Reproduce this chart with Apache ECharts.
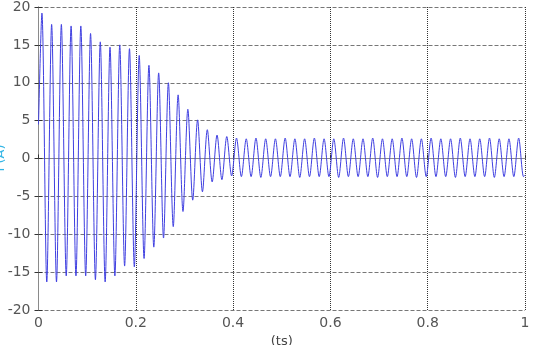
<!DOCTYPE html>
<html>
<head>
<meta charset="utf-8">
<script src="https://cdn.jsdelivr.net/npm/echarts@6/dist/echarts.min.js"></script>
<style>
  html, body { margin: 0; padding: 0; background: #fff; }
  #chart { width: 534px; height: 345px; }
</style>
</head>
<body>
<div id="chart"></div>
<script>
// values (positive peaks / negative troughs of the waveform)
var startPoint = [0, 4.5];
var endPoint = [1, -2.2];

var peakTimes = [0.007, 0.027, 0.047, 0.067, 0.087, 0.107, 0.127, 0.147, 0.167, 0.187,
                 0.207, 0.227, 0.247, 0.267, 0.287, 0.307, 0.327, 0.347, 0.367, 0.387,
                 0.407, 0.427, 0.447, 0.467, 0.487, 0.507, 0.527, 0.547, 0.567, 0.587,
                 0.607, 0.627, 0.647, 0.667, 0.687, 0.707, 0.727, 0.747, 0.767, 0.787,
                 0.807, 0.827, 0.847, 0.867, 0.887, 0.907, 0.927, 0.947, 0.967, 0.987];
var peakValues = [19.2, 17.7, 17.7, 17.5, 17.5, 16.5, 15.4, 14.7, 15.0, 14.5,
                  13.6, 12.3, 11.3, 10.0, 8.4, 6.5, 5.1, 3.8, 3.1, 2.9,
                  2.7, 2.6, 2.7, 2.6, 2.6, 2.7, 2.6, 2.6, 2.7, 2.6,
                  2.6, 2.7, 2.6, 2.6, 2.7, 2.6, 2.6, 2.7, 2.6, 2.6,
                  2.7, 2.6, 2.6, 2.7, 2.6, 2.6, 2.7, 2.6, 2.6, 2.7];

var troughTimes = [0.017, 0.037, 0.057, 0.077, 0.097, 0.117, 0.137, 0.157, 0.177, 0.197,
                   0.217, 0.237, 0.257, 0.277, 0.297, 0.317, 0.337, 0.357, 0.377, 0.397,
                   0.417, 0.437, 0.457, 0.477, 0.497, 0.517, 0.537, 0.557, 0.577, 0.597,
                   0.617, 0.637, 0.657, 0.677, 0.697, 0.717, 0.737, 0.757, 0.777, 0.797,
                   0.817, 0.837, 0.857, 0.877, 0.897, 0.917, 0.937, 0.957, 0.977, 0.997];
var troughValues = [-16.3, -16.3, -15.5, -15.5, -15.5, -16.0, -16.3, -15.5, -14.2, -14.3,
                    -13.2, -11.7, -10.5, -9.0, -7.0, -5.5, -4.4, -3.1, -2.8, -2.3,
                    -2.4, -2.4, -2.5, -2.4, -2.4, -2.4, -2.5, -2.4, -2.4, -2.4,
                    -2.5, -2.4, -2.4, -2.4, -2.5, -2.4, -2.4, -2.4, -2.5, -2.4,
                    -2.4, -2.4, -2.5, -2.4, -2.4, -2.4, -2.5, -2.4, -2.4, -2.4];

var xTicks = [0, 0.2, 0.4, 0.6, 0.8, 1];
var yTicks = [-20, -15, -10, -5, 0, 5, 10, 15, 20];

// merge peaks and troughs into one time-ordered series
var wave = [startPoint];
for (var i = 0; i < peakTimes.length; i++) {
    wave.push([peakTimes[i], peakValues[i]]);
    wave.push([troughTimes[i], troughValues[i]]);
}
wave.push(endPoint);

var xMin = xTicks[0], xMax = xTicks[xTicks.length - 1];
var yMin = yTicks[0], yMax = yTicks[yTicks.length - 1];
var labelFont = { color: '#555', fontSize: 14, fontFamily: 'DejaVu Sans' };
var borderLine = { show: true, lineStyle: { color: '#8a8a8a', width: 1 } };

var myChart = echarts.init(document.getElementById('chart'));
myChart.setOption({
    animation: false,
    grid: {
        left: 38.5, right: 9, top: 7, bottom: 35,
        containLabel: false,
        outerBoundsMode: 'none'
    },
    // y axis title, mostly cut off at the left edge in the original
    graphic: [{
        type: 'text',
        x: 1, y: 158,
        rotation: Math.PI / 2,
        style: {
            text: 'I (A)',
            fill: '#33b5e5',
            font: '13px "DejaVu Sans"',
            textAlign: 'center',
            textVerticalAlign: 'middle'
        }
    }],
    xAxis: [{
        type: 'value',
        min: xMin, max: xMax, interval: 0.2,
        name: '(ts)',
        nameLocation: 'middle',
        nameGap: 22,
        nameTextStyle: { color: '#444', fontSize: 13, fontFamily: 'DejaVu Sans' },
        axisLine: borderLine,
        axisTick: { show: true, inside: true, length: 4, lineStyle: { color: '#333' } },
        axisLabel: Object.assign({ margin: 6 }, labelFont),
        splitLine: { show: true, lineStyle: { color: '#333', type: 'dotted', width: 1 } }
    }, {
        // top border of the frame
        type: 'value', position: 'top',
        min: xMin, max: xMax, interval: 0.2,
        axisLine: borderLine,
        axisTick: { show: false }, axisLabel: { show: false }, splitLine: { show: false }
    }],
    yAxis: [{
        type: 'value',
        min: yMin, max: yMax, interval: 5,
        axisLine: borderLine,
        axisTick: { show: true, inside: true, length: 4, lineStyle: { color: '#333' } },
        axisLabel: Object.assign({ margin: 8 }, labelFont),
        splitLine: { show: true, lineStyle: { color: '#777', type: 'dashed', width: 1 } }
    }, {
        // right border of the frame with inner ticks
        type: 'value', position: 'right',
        min: yMin, max: yMax, interval: 5,
        axisLine: borderLine,
        axisTick: { show: true, inside: true, length: 4, lineStyle: { color: '#333' } },
        axisLabel: { show: false }, splitLine: { show: false }
    }],
    series: [{
        type: 'line',
        data: wave,
        showSymbol: false,
        smooth: 0.3,
        lineStyle: { color: '#3f3fe0', width: 1 }
    }]
});
</script>
</body>
</html>
